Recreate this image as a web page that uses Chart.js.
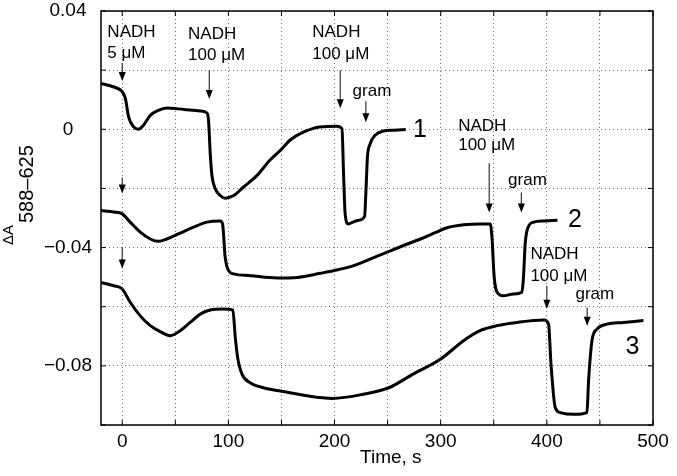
<!DOCTYPE html>
<html>
<head>
<meta charset="utf-8">
<script src="https://cdn.jsdelivr.net/npm/chart.js@4"></script>
<style>
  body { margin: 0; background: #fff; }
  canvas { display: block; }
</style>
</head>
<body>
<canvas id="chart" width="677" height="476"></canvas>
<script>
// trace 1 (top)
var t1 = [-20, -8, 0, 3, 6, 10.7, 15.4, 20, 26.4, 34, 42, 58, 73.5, 79.8, 81.3, 82.9, 84.5, 87.6, 92.3, 97, 105, 114, 127, 139, 149, 158, 171, 186, 202, 207, 208.5, 210, 213, 221, 228.3, 229.6, 231, 233.6, 238.3, 246, 256, 267];
var v1 = [0.0155, 0.0143, 0.0127, 0.0104, 0.0042, 0.0008, 0.0000, 0.0014, 0.0047, 0.0064, 0.0072, 0.0067, 0.0062, 0.0055, 0.0030, -0.0082, -0.0156, -0.0201, -0.0224, -0.0233, -0.0224, -0.0196, -0.0156, -0.0105, -0.0071, -0.0037, -0.0009, 0.0008, 0.0010, 0.0002, -0.0150, -0.0286, -0.0320, -0.0309, -0.0295, -0.0207, -0.0094, -0.0049, -0.0020, -0.0006, -0.0003, -0.0001];

// trace 2 (middle)
var t2 = [-20, -8, 0, 7.5, 17, 26.4, 34.2, 42, 54.6, 67.2, 79.8, 92.3, 94.5, 97, 100.2, 105, 121, 146, 165, 186.5, 202, 218, 234, 249, 265, 281, 296, 306, 321.5, 337, 346.7, 348.3, 350.4, 354.5, 359, 368.6, 376.5, 378, 379.6, 381.8, 387.5, 397, 410];
var v2 = [-0.0275, -0.0280, -0.0286, -0.0314, -0.0348, -0.0371, -0.0379, -0.0371, -0.0351, -0.0331, -0.0314, -0.0310, -0.0320, -0.0433, -0.0478, -0.0489, -0.0495, -0.0503, -0.0501, -0.0487, -0.0476, -0.0461, -0.0438, -0.0416, -0.0393, -0.0371, -0.0348, -0.0333, -0.0323, -0.0320, -0.0320, -0.0365, -0.0500, -0.0557, -0.0563, -0.0557, -0.0551, -0.0500, -0.0387, -0.0337, -0.0314, -0.0310, -0.0308];

// trace 3 (bottom)
var t3 = [-20, -8, 0, 7.5, 17, 26.4, 35.8, 45.2, 54.6, 64, 73.5, 82.9, 95.4, 104.2, 106.5, 108.7, 112.8, 120.6, 133, 149, 198, 227, 251, 274, 300, 321.5, 337, 353, 372, 397, 401.6, 403.9, 407.9, 412.6, 425, 437.8, 439.3, 442.5, 447.2, 456.6, 472.3, 491];
var v3 = [-0.0518, -0.0529, -0.0540, -0.0585, -0.0631, -0.0664, -0.0684, -0.0698, -0.0681, -0.0653, -0.0625, -0.0611, -0.0608, -0.0611, -0.0704, -0.0772, -0.0828, -0.0857, -0.0874, -0.0885, -0.0910, -0.0896, -0.0874, -0.0828, -0.0777, -0.0715, -0.0681, -0.0664, -0.0653, -0.0645, -0.0659, -0.0794, -0.0941, -0.0958, -0.0964, -0.0958, -0.0851, -0.0715, -0.0676, -0.0659, -0.0653, -0.0647];

var xTicks = [0, 50, 100, 150, 200, 250, 300, 350, 400, 450, 500];
var xLabels = [0, 100, 200, 300, 400, 500];
var yTicks = [-0.1, -0.08, -0.06, -0.04, -0.02, 0, 0.02, 0.04];
var yLabels = [-0.08, -0.04, 0, 0.04];

// annotations, in data units (time, dA)
var noteText = ["NADH", "5 \u03bcM", "NADH", "100 \u03bcM", "NADH", "100 \u03bcM", "gram", "NADH", "100 \u03bcM", "gram", "NADH", "100 \u03bcM", "gram"];
var noteT = [-14, -14, 62, 62, 179, 179, 217, 316.5, 316.5, 363.5, 384.5, 384.5, 427];
var noteV = [0.0312, 0.0241, 0.0305, 0.0234, 0.0312, 0.0237, 0.0112, -0.0007, -0.0071, -0.0190, -0.0437, -0.0512, -0.0573];

var arrowT = [0, 82, 205.4, 229.5, 0, 345.7, 376, 0, 400, 438];
var arrowFrom = [0.0224, 0.0200, 0.0200, 0.0095, -0.0163, -0.0115, -0.0214, -0.0400, -0.0529, -0.0603];
var arrowTo = [0.0163, 0.0102, 0.0071, 0.0024, -0.0217, -0.0281, -0.0281, -0.0471, -0.0607, -0.0664];

var traceName = ["1", "2", "3"];
var traceNameT = [274, 420, 474];
var traceNameV = [-0.0027, -0.0332, -0.0759];

var FONT = '"Liberation Sans", Arial, Helvetica, sans-serif';
Chart.defaults.font.family = FONT;
Chart.defaults.color = "#000";

function toPoints(ts, vs) {
  var pts = [];
  for (var i = 0; i < ts.length; i++) {
    pts.push({ x: ts[i], y: vs[i] });
  }
  return pts;
}

function trace(ts, vs) {
  return {
    data: toPoints(ts, vs),
    showLine: true,
    borderColor: "#000",
    borderWidth: 3,
    pointRadius: 0,
    cubicInterpolationMode: "monotone"
  };
}

function yFormat(v) {
  var lab = yLabels.find(function(l) { return Math.abs(l - v) < 1e-9; });
  if (lab === undefined) return "";
  if (lab === 0) return "0";
  return (lab < 0 ? "\u2212" : "") + Math.abs(lab).toFixed(2);
}

function line(ctx, x1, y1, x2, y2) {
  ctx.beginPath();
  ctx.moveTo(x1, y1);
  ctx.lineTo(x2, y2);
  ctx.stroke();
}

var overlay = {
  id: "overlay",
  afterDraw: function(chart) {
    var ctx = chart.ctx, a = chart.chartArea;
    var xs = chart.scales.x, ys = chart.scales.y;
    ctx.save();

    // frame
    ctx.strokeStyle = "#000";
    ctx.lineWidth = 1.5;
    ctx.strokeRect(a.left, a.top, a.right - a.left, a.bottom - a.top);

    // inward ticks on all sides
    ctx.lineWidth = 1;
    xTicks.forEach(function(v) {
      var px = xs.getPixelForValue(v);
      line(ctx, px, a.bottom, px, a.bottom - 5);
      line(ctx, px, a.top, px, a.top + 5);
    });
    yTicks.forEach(function(v) {
      var py = ys.getPixelForValue(v);
      line(ctx, a.left, py, a.left + 5, py);
      line(ctx, a.right, py, a.right - 5, py);
    });

    // arrows
    for (var i = 0; i < arrowT.length; i++) {
      var ax = xs.getPixelForValue(arrowT[i]);
      var ay0 = ys.getPixelForValue(arrowFrom[i]);
      var ay1 = ys.getPixelForValue(arrowTo[i]);
      ctx.strokeStyle = "#333";
      ctx.lineWidth = 1.2;
      line(ctx, ax, ay0, ax, ay1 - 7);
      ctx.fillStyle = "#000";
      ctx.beginPath();
      ctx.moveTo(ax - 3.5, ay1 - 9);
      ctx.lineTo(ax + 3.5, ay1 - 9);
      ctx.lineTo(ax, ay1);
      ctx.closePath();
      ctx.fill();
    }

    // notes
    ctx.fillStyle = "#000";
    ctx.textAlign = "left";
    ctx.textBaseline = "alphabetic";
    ctx.font = "17px " + FONT;
    for (var j = 0; j < noteText.length; j++) {
      ctx.fillText(noteText[j], xs.getPixelForValue(noteT[j]), ys.getPixelForValue(noteV[j]));
    }
    ctx.font = "25px " + FONT;
    for (var k = 0; k < traceName.length; k++) {
      ctx.fillText(traceName[k], xs.getPixelForValue(traceNameT[k]), ys.getPixelForValue(traceNameV[k]));
    }

    // x title
    ctx.font = "19px " + FONT;
    ctx.textAlign = "center";
    ctx.fillText("Time, s", xs.getPixelForValue(253), 463);

    // y title with subscript
    ctx.translate(13, 245);
    ctx.rotate(-Math.PI / 2);
    ctx.textAlign = "left";
    ctx.font = "15px " + FONT;
    ctx.fillText("\u0394A", 0, 0);
    ctx.font = "20px " + FONT;
    ctx.fillText("588\u2013625", 22, 20);

    ctx.restore();
  }
};

new Chart(document.getElementById("chart"), {
  type: "scatter",
  data: { datasets: [trace(t1, v1), trace(t2, v2), trace(t3, v3)] },
  options: {
    responsive: false,
    animation: false,
    devicePixelRatio: 1,
    layout: { autoPadding: false, padding: { left: 0, right: 24, top: 11, bottom: 0 } },
    plugins: { legend: { display: false }, tooltip: { enabled: false } },
    scales: {
      x: {
        type: "linear",
        min: -20,
        max: 500,
        afterFit: function(s) { s.height = 51; s.paddingLeft = 0; s.paddingRight = 0; },
        afterBuildTicks: function(s) { s.ticks = xTicks.map(function(v) { return { value: v }; }); },
        grid: { color: "#777", lineWidth: 1, drawTicks: false },
        border: { display: false, dash: [1, 3] },
        ticks: {
          autoSkip: false,
          maxRotation: 0,
          padding: 5,
          font: { size: 19 },
          callback: function(v) { return xLabels.indexOf(v) >= 0 ? String(v) : ""; }
        }
      },
      y: {
        type: "linear",
        min: -0.1,
        max: 0.04,
        afterFit: function(s) { s.width = 101; s.paddingTop = 0; s.paddingBottom = 0; },
        afterBuildTicks: function(s) { s.ticks = yTicks.map(function(v) { return { value: v }; }); },
        grid: { color: "#777", lineWidth: 1, drawTicks: false },
        border: { display: false, dash: [1, 3] },
        ticks: {
          autoSkip: false,
          crossAlign: "center",
          padding: 9,
          font: { size: 19 },
          callback: yFormat
        }
      }
    }
  },
  plugins: [overlay]
});
</script>
</body>
</html>
